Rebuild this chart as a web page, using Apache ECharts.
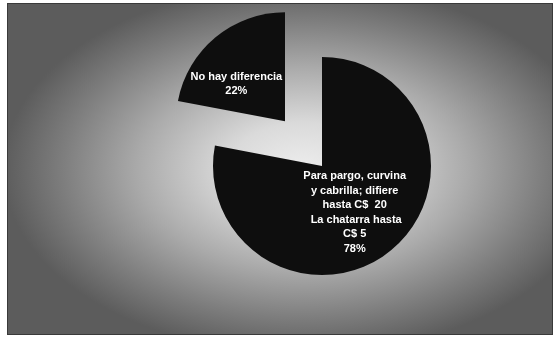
<!DOCTYPE html>
<html>
<head>
<meta charset="utf-8">
<script src="https://cdn.jsdelivr.net/npm/echarts@6/dist/echarts.min.js"></script>
<style>
  html, body { margin:0; padding:0; background:#ffffff; width:555px; height:340px; overflow:hidden; }
  #bg { position:absolute; left:7px; top:3px; width:544px; height:330px; border:1px solid #3a3a3a;
        background: radial-gradient(ellipse 300px 185px at 295px 165px, #ededed 0%, #dadada 25%, #aaaaaa 55%, #7e7e7e 80%, #5c5c5c 100%); }
  #chart { position:absolute; left:0; top:0; width:555px; height:340px; }
</style>
</head>
<body>
<div id="bg"></div>
<div id="chart"></div>
<script>
const categories = [
  "Para pargo, curvina\ny cabrilla; difiere\nhasta C$  20\n La chatarra hasta\nC$ 5",
  "No hay diferencia"
];
const values = [78, 22];
const explodedIndex = 1;

const chart = echarts.init(document.getElementById('chart'), null, { renderer: 'canvas' });
const data = categories.map((name, i) => ({
  name: name,
  value: values[i],
  selected: i === explodedIndex
}));
chart.setOption({
  backgroundColor: 'transparent',
  animation: false,
  series: [{
    type: 'pie',
    center: [322, 166],
    radius: [0, 109],
    startAngle: 90,
    clockwise: true,
    selectedMode: 'single',
    selectedOffset: 58,
    data: data,
    itemStyle: { color: '#0e0e0e', borderWidth: 0 },
    emphasis: { disabled: true },
    label: {
      show: true,
      position: 'inside',
      color: '#ffffff',
      fontFamily: 'Liberation Sans, Arial, sans-serif',
      fontWeight: 'bold',
      fontSize: 11,
      lineHeight: 14.5,
      align: 'center',
      formatter: p => p.name + '\n' + p.value + '%'
    },
    labelLine: { show: false },
    labelLayout: function (params) {
      if (params.dataIndex === 1) return { dx: -12, dy: 7 };
      return { dx: -4, dy: 2 };
    }
  }]
});
</script>
</body>
</html>
